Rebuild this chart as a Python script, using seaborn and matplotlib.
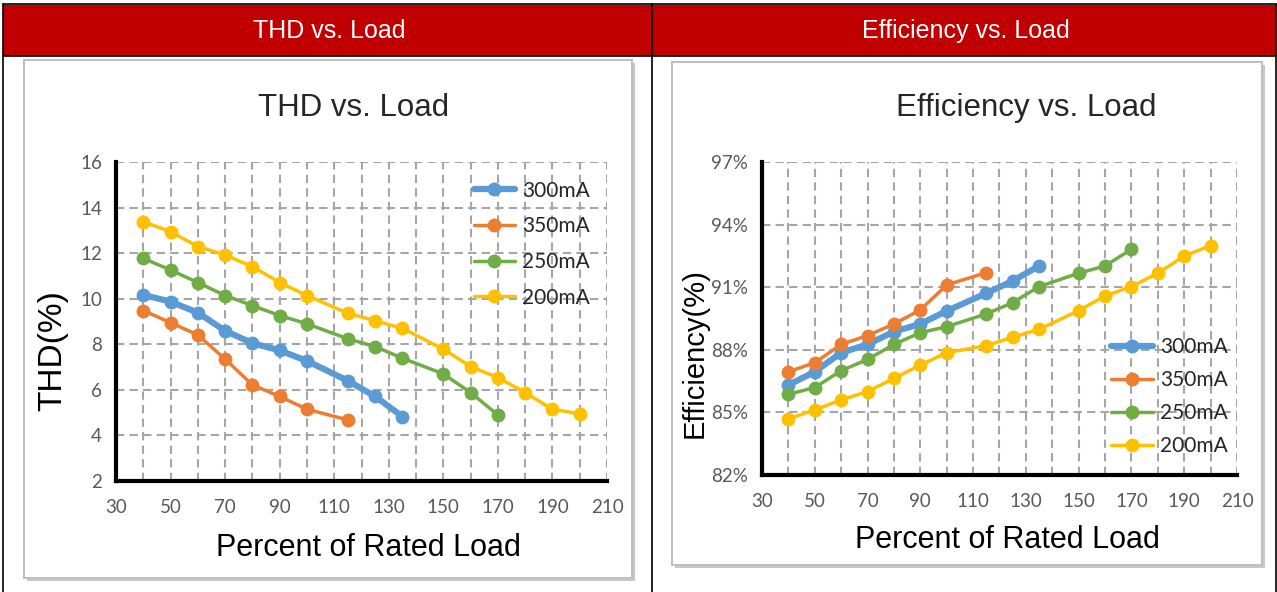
import numpy as np
import pandas as pd
import matplotlib
matplotlib.use("Agg")
import matplotlib.pyplot as plt
from matplotlib.patches import Rectangle
from matplotlib.lines import Line2D
import seaborn as sns

# ---- data ----
series = ['300mA', '350mA', '250mA', '200mA']
colors = {'300mA': '#5B9BD5', '350mA': '#ED7D31', '250mA': '#70AD47', '200mA': '#FFC000'}

load_300 = [40, 50, 60, 70, 80, 90, 100, 115, 125, 135]
load_350 = [40, 50, 60, 70, 80, 90, 100, 115]
load_250 = [40, 50, 60, 70, 80, 90, 100, 115, 125, 135, 150, 160, 170]
load_200 = [40, 50, 60, 70, 80, 90, 100, 115, 125, 135, 150, 160, 170, 180, 190, 200]

thd_300 = [10.17, 9.87, 9.39, 8.59, 8.05, 7.73, 7.27, 6.4, 5.71, 4.83]
thd_350 = [9.48, 8.95, 8.41, 7.35, 6.22, 5.71, 5.15, 4.68]
thd_250 = [11.77, 11.26, 10.71, 10.14, 9.7, 9.26, 8.9, 8.24, 7.9, 7.39, 6.7, 5.88, 4.9]
thd_200 = [13.38, 12.94, 12.29, 11.92, 11.41, 10.71, 10.14, 9.36, 9.03, 8.7,
           7.79, 7.02, 6.54, 5.88, 5.15, 4.95]

eff_300 = [86.31, 86.95, 87.86, 88.26, 88.87, 89.24, 89.86, 90.71, 91.3, 92.02]
eff_350 = [86.95, 87.38, 88.26, 88.68, 89.24, 89.91, 91.11, 91.7]
eff_250 = [85.87, 86.19, 87.0, 87.54, 88.26, 88.82, 89.11, 89.72, 90.26, 91.03,
           91.67, 92.02, 92.82]
eff_200 = [84.69, 85.12, 85.6, 86.0, 86.63, 87.27, 87.86, 88.2, 88.6, 88.98,
           89.88, 90.58, 91.03, 91.67, 92.5, 92.99]

loads = {'300mA': load_300, '350mA': load_350, '250mA': load_250, '200mA': load_200}
thd = {'300mA': thd_300, '350mA': thd_350, '250mA': thd_250, '200mA': thd_200}
eff = {'300mA': eff_300, '350mA': eff_350, '250mA': eff_250, '200mA': eff_200}

x_ticks = list(range(30, 211, 20))
thd_ticks = list(range(2, 17, 2))
eff_ticks = list(range(82, 98, 3))

sns.set_style('white')
plt.rcParams['font.family'] = ['Liberation Sans', 'DejaVu Sans']

W, H = 1277, 592
fig = plt.figure(figsize=(W / 100, H / 100), dpi=100)
fig.patch.set_facecolor('white')


def px(x0, y0, x1, y1):
    # pixel box -> figure fraction [left, bottom, width, height]
    return [x0 / W, 1 - y1 / H, (x1 - x0) / W, (y1 - y0) / H]


def frac_rect(x0, y0, x1, y1, **kw):
    l, b, w, h = px(x0, y0, x1, y1)
    fig.patches.append(Rectangle((l, b), w, h, transform=fig.transFigure, **kw))


# table header
frac_rect(3, 5, 1276, 56, facecolor='#C00000', edgecolor='none', zorder=0)
for xs in [3, 652, 1276]:
    fig.add_artist(Line2D([xs / W, xs / W], [1 - 4 / H, 0], color='black', lw=1.2,
                          transform=fig.transFigure))
for ys in [4, 56]:
    fig.add_artist(Line2D([3 / W, 1276 / W], [1 - ys / H, 1 - ys / H], color='black',
                          lw=1.2, transform=fig.transFigure))
fig.text(329 / W, 1 - 31 / H, 'THD vs. Load', color='white', fontsize=18,
         ha='center', va='center')
fig.text(966 / W, 1 - 31 / H, 'Efficiency vs. Load', color='white', fontsize=18,
         ha='center', va='center')

# chart frames with a soft shadow
for (x0, y0, x1, y1) in [(24, 60, 632, 578), (672, 62, 1262, 565)]:
    frac_rect(x0 + 3, y0 + 3, x1 + 3, y1 + 3, facecolor='#C8C8C8', edgecolor='none', zorder=0)
    frac_rect(x0, y0, x1, y1, facecolor='white', edgecolor='#BFBFBF', lw=1.5, zorder=0)


def style_axes(ax, yticks, ylim):
    ax.set_zorder(3)
    ax.set_xlim(30, 210)
    ax.set_ylim(*ylim)
    ax.set_xticks(x_ticks)
    ax.set_xticks(list(range(40, 211, 20)), minor=True)
    ax.set_yticks(yticks)
    ax.grid(True, which='both', color='#A6A6A6', linestyle=(0, (4, 2.5)), lw=1.5)
    for s in ['top', 'right']:
        ax.spines[s].set_visible(False)
    for s in ['left', 'bottom']:
        ax.spines[s].set_color('black')
        ax.spines[s].set_linewidth(3)
        ax.spines[s].set_zorder(5)
    ax.tick_params(which='both', length=0, labelsize=13.5, labelcolor='#595959')
    ax.tick_params(axis='x', pad=13)
    ax.tick_params(axis='y', pad=10)
    ax.set_facecolor('none')


def fonts(ax):
    for lab in ax.get_xticklabels() + ax.get_yticklabels():
        lab.set_family('Lato')


def draw(ax, values):
    for name in series:
        df = pd.DataFrame({'load': loads[name], 'val': values[name]})
        lw = 4.5 if name == '300mA' else 2.5
        sns.lineplot(data=df, x='load', y='val', ax=ax, color=colors[name], lw=lw,
                     marker='o', markersize=10, markeredgewidth=0, label=name,
                     zorder=3)
    ax.set_xlabel('Percent of Rated Load', fontsize=22, color='black')


# ---- left: THD ----
ax1 = fig.add_axes(px(116, 162, 607, 481))
draw(ax1, thd)
style_axes(ax1, thd_ticks, (2, 16))
fonts(ax1)
ax1.xaxis.set_label_coords(0.514, -0.163)
ax1.set_ylabel('THD(%)', fontsize=24, color='black')
ax1.yaxis.set_label_coords(-0.098, 0.41)
ax1.set_title('THD vs. Load', fontsize=22.5, pad=33, x=0.483)
leg1 = ax1.legend(loc='upper left', bbox_to_anchor=(0.69, 1.0), frameon=False,
                  handlelength=2.0, labelspacing=0.75, handletextpad=0.35,
                  prop={'family': 'Lato', 'size': 15})

# ---- right: efficiency ----
ax2 = fig.add_axes(px(762, 162, 1237, 475))
draw(ax2, eff)
style_axes(ax2, eff_ticks, (82, 97))
ax2.set_yticklabels([f'{v}%' for v in eff_ticks])
fonts(ax2)
ax2.xaxis.set_label_coords(0.516, -0.16)
ax2.set_ylabel('Efficiency(%)', fontsize=21, color='black')
ax2.yaxis.set_label_coords(-0.113, 0.39)
ax2.set_title('Efficiency vs. Load', fontsize=22.5, pad=33, x=0.556)
leg2 = ax2.legend(loc='upper left', bbox_to_anchor=(0.695, 0.50), frameon=False,
                  handlelength=2.0, labelspacing=0.62, handletextpad=0.35,
                  prop={'family': 'Lato', 'size': 15})

fig.savefig('out.png', dpi=100)
